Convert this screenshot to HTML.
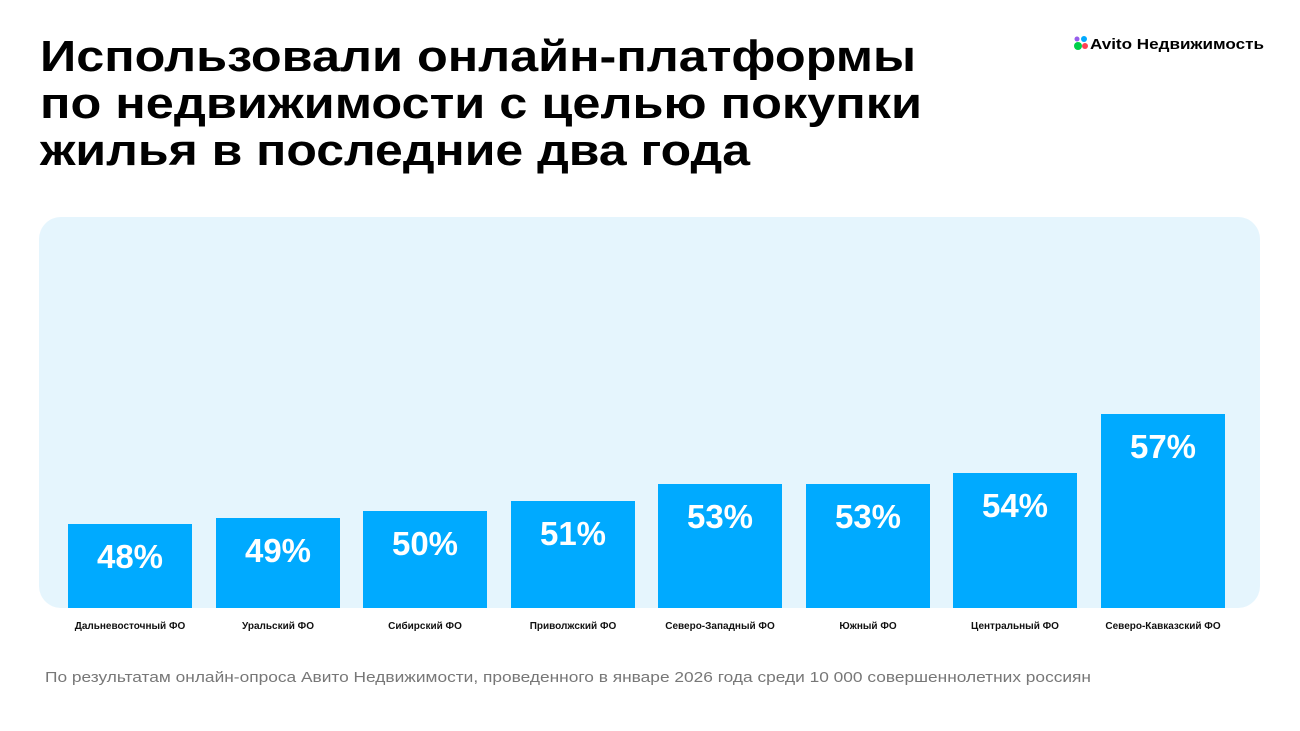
<!DOCTYPE html>
<html><head><meta charset="utf-8"><style>
html,body{margin:0;padding:0;background:#fff}
svg{display:block}
text{font-family:"Liberation Sans",sans-serif}
</style></head><body>
<svg width="1300" height="731" viewBox="0 0 1300 731" xmlns="http://www.w3.org/2000/svg">
<rect width="1300" height="731" fill="#fff"/>
<g font-weight="bold" font-size="44" fill="#000">
<text x="40" y="71" textLength="876" lengthAdjust="spacingAndGlyphs">Использовали онлайн-платформы</text>
<text x="40" y="118" textLength="882" lengthAdjust="spacingAndGlyphs">по недвижимости с целью покупки</text>
<text x="40" y="165" textLength="710" lengthAdjust="spacingAndGlyphs">жилья в последние два года</text>
</g>
<circle cx="1078" cy="46" r="4" fill="#00d04a"/>
<circle cx="1077" cy="39" r="2.5" fill="#965eeb"/>
<circle cx="1084" cy="39" r="3" fill="#0af"/>
<circle cx="1085" cy="46" r="3" fill="#ff4053"/>
<text x="1090" y="49" font-size="15" font-weight="bold" textLength="174" lengthAdjust="spacingAndGlyphs">Avito Недвижимость</text>
<rect x="39" y="217" width="1221" height="391" rx="22" fill="#e5f5fd"/>
<g fill="#00aaff">
<rect x="68" y="524" width="124" height="84"/>
<rect x="216" y="518" width="124" height="90"/>
<rect x="363" y="511" width="124" height="97"/>
<rect x="511" y="501" width="124" height="107"/>
<rect x="658" y="484" width="124" height="124"/>
<rect x="806" y="484" width="124" height="124"/>
<rect x="953" y="473" width="124" height="135"/>
<rect x="1101" y="414" width="124" height="194"/>
</g>
<g fill="#fff" font-weight="bold" font-size="33" text-anchor="middle">
<text x="130" y="568">48%</text>
<text x="278" y="562">49%</text>
<text x="425" y="555">50%</text>
<text x="573" y="545">51%</text>
<text x="720" y="528">53%</text>
<text x="868" y="528">53%</text>
<text x="1015" y="517">54%</text>
<text x="1163" y="458">57%</text>
</g>
<g fill="#111" font-weight="bold" font-size="10" text-anchor="middle">
<text x="130" y="629">Дальневосточный ФО</text>
<text x="278" y="629">Уральский ФО</text>
<text x="425" y="629">Сибирский ФО</text>
<text x="573" y="629">Приволжский ФО</text>
<text x="720" y="629">Северо-Западный ФО</text>
<text x="868" y="629">Южный ФО</text>
<text x="1015" y="629">Центральный ФО</text>
<text x="1163" y="629">Северо-Кавказский ФО</text>
</g>
<text x="45" y="682" font-size="15" fill="#777" textLength="1046" lengthAdjust="spacingAndGlyphs">По результатам онлайн-опроса Авито Недвижимости, проведенного в январе 2026 года среди 10 000 совершеннолетних россиян</text>
</svg>
</body></html>
